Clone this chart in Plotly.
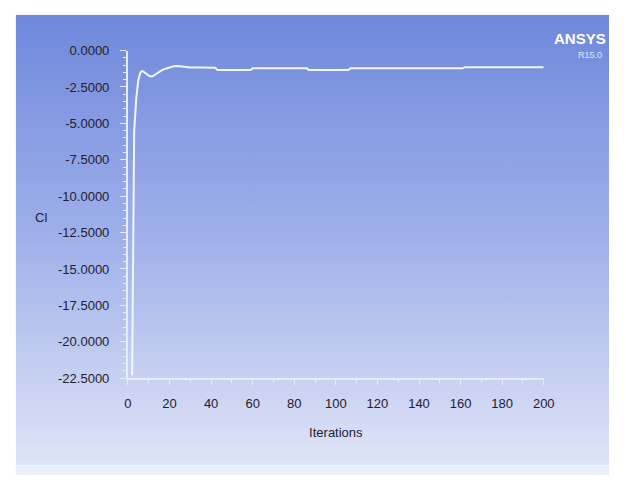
import urllib.parse
import plotly.graph_objects as go

# Lift coefficient convergence history (Fluent monitor)
iterations = [2, 3, 4, 5, 6, 7, 8, 9, 10, 11, 12, 13, 14, 15, 16, 17, 18, 20,
              22, 24, 26, 28, 30, 36, 42, 43, 50, 59, 60, 70, 80, 86, 87, 95,
              100, 106, 107, 120, 140, 161, 162, 180, 200]
cl_values = [-22.3, -5.5, -3.3, -2.0, -1.5, -1.4, -1.5, -1.62, -1.72, -1.78, -1.75,
             -1.66, -1.55, -1.45, -1.38, -1.3, -1.25, -1.15,
             -1.07, -1.05, -1.1, -1.15, -1.16, -1.16, -1.17, -1.34, -1.34, -1.34, -1.22,
             -1.22, -1.22, -1.22, -1.34, -1.34,
             -1.34, -1.34, -1.22, -1.22, -1.22, -1.22, -1.14, -1.14, -1.14]

x_ticks = [0, 20, 40, 60, 80, 100, 120, 140, 160, 180, 200]
y_ticks = [0.0, -2.5, -5.0, -7.5, -10.0, -12.5, -15.0, -17.5, -20.0, -22.5]

W, H = 626, 485
FONT = "Liberation Sans Narrow, Liberation Sans, Arial, sans-serif"
TEXT = "#1e2030"
AXIS = "#e6ecff"


def px_x(p):
    return p / W


def px_y(p):
    return 1 - p / H


# vertical blue gradient for the viewport background
svg = (
    "<svg xmlns='http://www.w3.org/2000/svg' width='608' height='465' preserveAspectRatio='none'>"
    "<defs><linearGradient id='g' x1='0' y1='0' x2='0' y2='1'>"
    "<stop offset='0' stop-color='#6e87db'/>"
    "<stop offset='0.5' stop-color='#a0b1ea'/>"
    "<stop offset='1' stop-color='#dfe4f6'/>"
    "</linearGradient></defs>"
    "<rect width='608' height='465' fill='url(#g)'/></svg>"
)
bg_src = "data:image/svg+xml;charset=utf-8," + urllib.parse.quote(svg)

fig = go.Figure()
fig.add_trace(go.Scatter(
    x=iterations, y=cl_values, mode="lines",
    line=dict(color="#f2f6ff", width=2),
    hoverinfo="skip", showlegend=False,
))

fig.add_layout_image(dict(
    source=bg_src, xref="paper", yref="paper",
    x=px_x(12), y=px_y(8), sizex=px_x(620) - px_x(12), sizey=px_y(8) - px_y(473),
    xanchor="left", yanchor="top", sizing="stretch", layer="below",
))
# light strip under the viewport
fig.add_shape(type="rect", xref="paper", yref="paper",
              x0=px_x(12), x1=px_x(620), y0=px_y(483), y1=px_y(473),
              fillcolor="#eaf0fb", line_width=0, layer="below")

fig.update_layout(
    width=W, height=H,
    margin=dict(l=0, r=0, t=0, b=0),
    paper_bgcolor="white",
    plot_bgcolor="rgba(0,0,0,0)",
    font=dict(family=FONT, color=TEXT, size=13),
    xaxis=dict(
        domain=[px_x(127), px_x(553)], range=[0, 200],
        anchor="y", tickvals=x_ticks, ticktext=[str(v) for v in x_ticks],
        ticks="outside", ticklen=5, tickcolor=AXIS, tickwidth=1,
        minor=dict(dtick=10, ticks="outside", ticklen=3, tickcolor=AXIS),
        showline=True, linecolor=AXIS, linewidth=2,
        showgrid=False, zeroline=False,
        tickfont=dict(size=13, color=TEXT),
        ticklabelstandoff=7,
        title=dict(text="Iterations", font=dict(size=13, color=TEXT), standoff=18),
    ),
    yaxis=dict(
        domain=[px_y(383), px_y(45)], range=[-22.5, 0],
        anchor="x", tickvals=y_ticks, ticktext=[f"{v:.4f}" for v in y_ticks],
        ticks="outside", ticklen=6, tickcolor=AXIS, tickwidth=1,
        minor=dict(dtick=0.5, ticks="outside", ticklen=3, tickcolor=AXIS),
        showline=True, linecolor=AXIS, linewidth=2,
        showgrid=False, zeroline=False,
        tickfont=dict(size=13, color=TEXT),
        ticklabelstandoff=8,
    ),
)

fig.add_annotation(text="Cl", xref="paper", yref="paper",
                   x=px_x(38), y=px_y(217), showarrow=False,
                   font=dict(size=13, color=TEXT), xanchor="center", yanchor="middle")
fig.add_annotation(text="<b>ANSYS</b>", xref="paper", yref="paper",
                   x=px_x(619), y=px_y(32), showarrow=False,
                   font=dict(size=15, color="white"), xanchor="right", yanchor="middle")
fig.add_annotation(text="R15.0", xref="paper", yref="paper",
                   x=px_x(615), y=px_y(50), showarrow=False,
                   font=dict(size=9, color="#dfe6ff"), xanchor="right", yanchor="middle")

fig.write_html("out.html")
